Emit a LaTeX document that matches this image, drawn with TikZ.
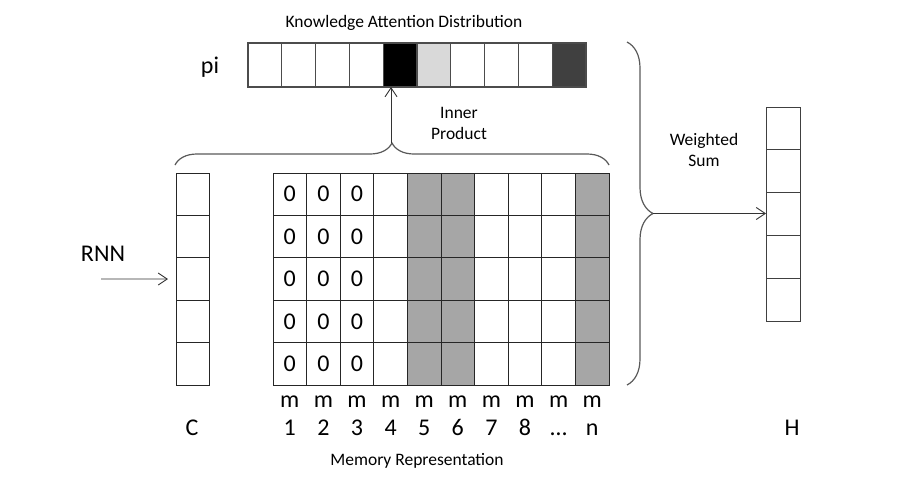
\documentclass[tikz,border=0pt]{standalone}
\usepackage{fontspec}
\setmainfont{Carlito}
\usetikzlibrary{decorations.pathreplacing,arrows.meta}
\definecolor{lgray}{HTML}{D9D9D9}
\definecolor{dgray}{HTML}{404040}
\definecolor{mgray}{HTML}{A6A6A6}
\definecolor{lineclr}{HTML}{262626}
\definecolor{brclr}{HTML}{595959}
\begin{document}
\begin{tikzpicture}[x=1pt,y=-1pt,
  cell/.style={draw=lineclr, line width=0.9pt, inner sep=0pt, outer sep=0pt, anchor=north west},
  picell/.style={cell, draw=black!70, line width=1.1pt, minimum width=33.8pt, minimum height=44pt},
  ccell/.style={cell, minimum width=33.5pt, minimum height=42.4pt},
  mcell/.style={cell, minimum width=33.6pt, minimum height=42.4pt, font=\fontsize{24}{26}\selectfont},
  hcell/.style={cell, draw=black!75, minimum width=34.5pt, minimum height=42.8pt},
  big/.style={font=\fontsize{24}{26}\selectfont, inner sep=0pt},
  bigbase/.style={big, anchor=base},
  small/.style={font=\fontsize{17.5}{21}\selectfont, inner sep=0pt, align=center},
  arr/.style={-{Straight Barb[length=9pt,width=12pt]}, line width=0.9pt, draw=black!80},
  brc/.style={decorate, decoration={brace, amplitude=#1}, line width=1.2pt, draw=brclr}
]
\useasboundingbox (0,0) rectangle (912,488);

% title
\node[small] (title) at (404,23) {Knowledge Attention Distribution};
\node[big] (pilabel) at (210,67) {pi};

% attention distribution cells
\foreach \i/\f in {1/white,2/white,3/white,4/white,5/black,6/lgray,7/white,8/white,9/white,10/dgray}
  \node[picell, fill=\f] (p\i) at ({248+(\i-1)*33.8},43) {};

% C column
\foreach \r in {1,...,5}
  \node[ccell] (c\r) at (176,{173+(\r-1)*42.4}) {};

% memory grid
\foreach \c/\f/\t in {1/white/0,2/white/0,3/white/0,4/white/{},5/mgray/{},6/mgray/{},7/white/{},8/white/{},9/white/{},10/mgray/{}}
  \foreach \r in {1,...,5}
    \node[mcell, fill=\f] (m\c-\r) at ({273+(\c-1)*33.6},{173+(\r-1)*42.4}) {\t};

% column labels
\foreach \c/\n in {1/1,2/2,3/3,4/4,5/5,6/6,7/7,8/8,9/…,10/n} {
  \node[bigbase] (ml\c) at ({273+(\c-0.5)*33.6},407) {m};
  \node[bigbase] (mn\c) at ({273+(\c-0.5)*33.6},435) {\n};
}

% H column
\foreach \r in {1,...,5}
  \node[hcell] (h\r) at (766,{107+(\r-1)*42.8}) {};

% labels
\node[big] (rnn) at (103,254) {RNN};
\node[bigbase] (clabel) at (192,435) {C};
\node[bigbase] (hlabel) at (792,435) {H};
\node[small] (memrep) at (417,461) {Memory Representation};
\node[small] (inner) at (459,123) {Inner\\Product};
\node[small] (wsum) at (704,150) {Weighted\\Sum};

% braces
\draw[brc=22] (175,165) -- (609,165);
\coordinate (toptip) at (391,143);
\draw[brc=26] (627,42) -- (627,385);
\coordinate (righttip) at (653,213.5);

% arrows
\coordinate (rnnstart) at (101,279);
\draw[arr] (rnnstart) -- ([xshift=-8pt]c3.west);
\draw[arr] (toptip) -- (toptip |- p5.south);
\draw[arr] (righttip) -- (righttip -| h3.west);
\end{tikzpicture}
\end{document}
